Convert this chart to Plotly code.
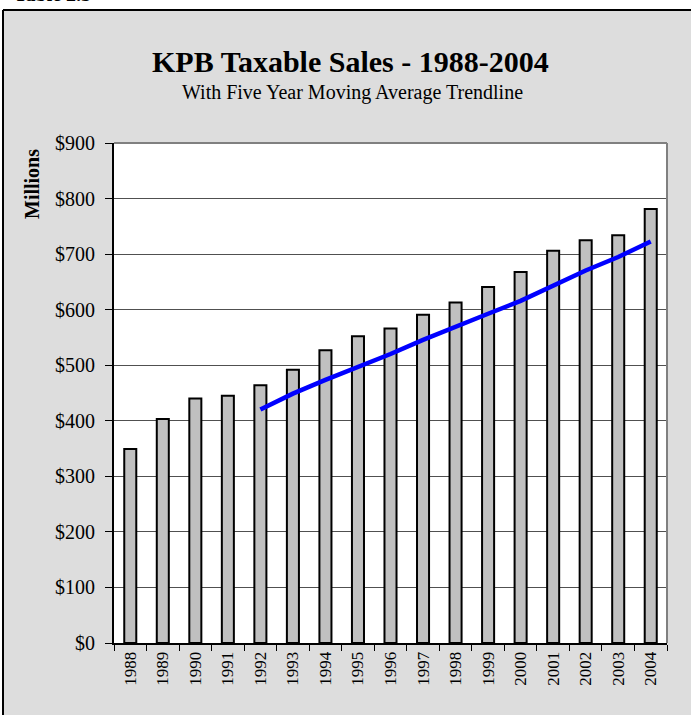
import plotly.graph_objects as go

years = [str(y) for y in range(1988, 2005)]
sales = [349, 403, 440, 445, 464, 492, 527, 552, 566, 591, 613, 641, 668, 706, 725, 734, 781]
ma_years = [str(y) for y in range(1992, 2005)]
moving_avg = [420.2, 448.8, 473.6, 496.0, 520.2, 545.6, 569.8, 592.6, 615.8, 643.8, 670.6, 694.8, 722.8]

W, H = 691, 715
L, R, T, B = 114, 24, 143, 72
PW, PH = W - L - R, H - T - B

def px(x):
    return (x - L) / PW

def py(y):
    return (H - B - y) / PH

FONT = "Liberation Serif"

fig = go.Figure()
fig.add_trace(go.Bar(
    x=years, y=sales, width=0.37,
    marker=dict(color="#C0C0C0", line=dict(color="black", width=2)),
    showlegend=False, hoverinfo="x+y",
))
fig.add_trace(go.Scatter(
    x=ma_years, y=moving_avg, mode="lines",
    line=dict(color="#0000FF", width=4.5),
    showlegend=False,
))

shapes = [
    # white strip at top and left (outside the gray panel)
    dict(type="rect", xref="paper", yref="paper", x0=px(-20), x1=px(720), y0=py(9.5), y1=py(-20),
         fillcolor="white", line=dict(width=0), layer="below"),
    dict(type="rect", xref="paper", yref="paper", x0=px(-20), x1=px(2.5), y0=py(740), y1=py(-20),
         fillcolor="white", line=dict(width=0), layer="below"),
    # panel border
    dict(type="line", xref="paper", yref="paper", x0=px(3), x1=px(720), y0=py(10), y1=py(10),
         line=dict(color="black", width=2), layer="below"),
    dict(type="line", xref="paper", yref="paper", x0=px(3), x1=px(3), y0=py(10), y1=py(740),
         line=dict(color="black", width=2), layer="below"),
    # plot area top and right border (gray)
    dict(type="line", xref="paper", yref="paper", x0=0, x1=1, y0=1, y1=1,
         line=dict(color="#808080", width=2), layer="above"),
    dict(type="line", xref="paper", yref="paper", x0=1, x1=1, y0=0, y1=1,
         line=dict(color="#808080", width=2), layer="above"),
]

annotations = [
    dict(text="<b>KPB Taxable Sales - 1988-2004</b>", xref="paper", yref="paper",
         x=px(350), y=py(61), xanchor="center", yanchor="middle", showarrow=False,
         font=dict(family=FONT, size=30, color="black")),
    dict(text="With Five Year Moving Average Trendline", xref="paper", yref="paper",
         x=px(352), y=py(93), xanchor="center", yanchor="middle", showarrow=False,
         font=dict(family=FONT, size=20, color="black")),
    dict(text="<b>Millions</b>", xref="paper", yref="paper",
         x=px(32), y=py(184), xanchor="center", yanchor="middle", showarrow=False,
         textangle=-90, font=dict(family=FONT, size=20, color="black")),
    dict(text="<b>Table 2.3</b>", xref="paper", yref="paper",
         x=px(12), y=py(7), xanchor="left", yanchor="bottom", showarrow=False,
         font=dict(family=FONT, size=20, color="black")),
]

fig.update_layout(
    width=W, height=H,
    margin=dict(l=L, r=R, t=T, b=B, pad=0),
    paper_bgcolor="#DDDDDD",
    plot_bgcolor="white",
    font=dict(family=FONT, color="black"),
    bargap=0.6,
    shapes=shapes,
    annotations=annotations,
    xaxis=dict(
        type="category", range=[-0.5, 16.5], tickangle=-90,
        ticks="outside", tickson="boundaries", ticklen=6, tickwidth=1, tickcolor="black",
        showline=True, linecolor="black", linewidth=2, showgrid=False,
        tickfont=dict(family=FONT, size=17, color="black"),
        zeroline=False, fixedrange=True,
    ),
    yaxis=dict(
        range=[0, 900], dtick=100, tick0=0, tickprefix="$",
        ticks="outside", ticklen=7, tickwidth=1, tickcolor="black",
        showline=True, linecolor="black", linewidth=2,
        showgrid=True, gridcolor="#505050", gridwidth=1,
        tickfont=dict(family=FONT, size=20, color="black"),
        zeroline=False, ticklabelstandoff=6, fixedrange=True,
    ),
)

fig.write_html(
    "out.html",
    config={"displayModeBar": False},
    post_script="document.body.style.margin='0';document.body.style.overflow='hidden';",
)
